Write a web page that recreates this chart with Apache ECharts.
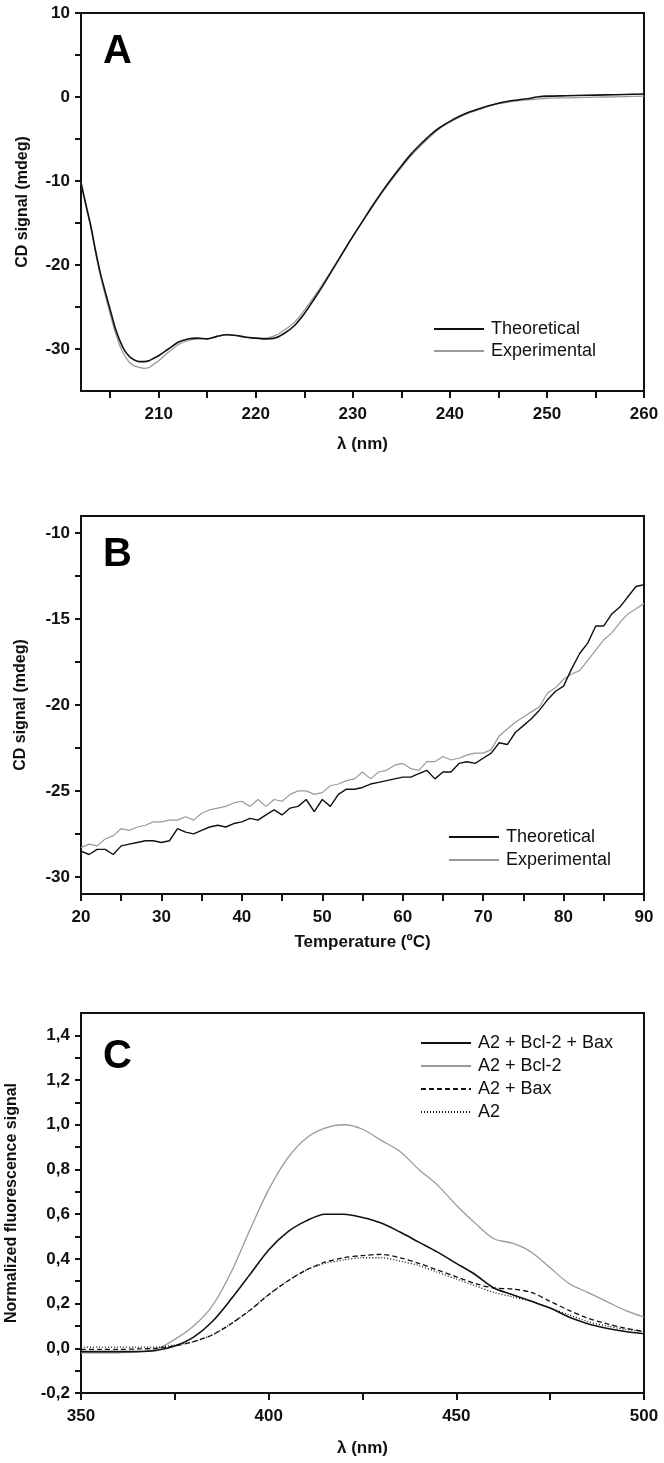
<!DOCTYPE html>
<html>
<head>
<meta charset="utf-8">
<script src="https://cdn.jsdelivr.net/npm/echarts@6/dist/echarts.min.js"></script>
<style>
  html, body { margin: 0; padding: 0; background: #fff; }
  #chart { width: 664px; height: 1463px; }
</style>
</head>
<body>
<div id="chart"></div>
<script>
// ---- panel A: CD spectrum ----
var wlA = [202, 202.5, 203, 203.5, 204, 204.5, 205, 205.5, 206, 206.5, 207, 207.5, 208, 208.5, 209, 209.5, 210,
  211, 212, 213, 214, 215, 216, 217, 218, 219, 220, 221, 222, 223, 224, 225, 226, 227, 228, 229, 230,
  231, 232, 233, 234, 235, 236, 237, 238, 239, 240, 241, 242, 243, 244, 245, 246, 247, 248, 249, 250,
  252, 254, 256, 258, 260]
var theoA = [-10.2, -12.8, -15.3, -18.3, -21.0, -23.2, -25.3, -27.4, -29.0, -30.2, -30.9, -31.3, -31.5, -31.5, -31.4, -31.1, -30.8,
  -30.0, -29.2, -28.8, -28.7, -28.8, -28.5, -28.3, -28.4, -28.6, -28.7, -28.8, -28.7, -28.1, -27.2, -25.8, -24.1, -22.3, -20.4, -18.5, -16.6,
  -14.8, -13.0, -11.3, -9.7, -8.2, -6.8, -5.6, -4.5, -3.6, -2.9, -2.3, -1.8, -1.4, -1.05, -0.75, -0.5, -0.35, -0.2, 0.0, 0.1,
  0.15, 0.2, 0.25, 0.3, 0.35]
var expA = [-10.2, -12.9, -15.5, -18.5, -21.3, -23.6, -25.8, -27.9, -29.6, -30.8, -31.6, -32.0, -32.2, -32.3, -32.2, -31.8, -31.4,
  -30.4, -29.5, -29.0, -28.8, -28.8, -28.5, -28.3, -28.4, -28.6, -28.7, -28.7, -28.4, -27.7, -26.8, -25.4, -23.8, -22.1, -20.3, -18.4, -16.6,
  -14.8, -13.1, -11.4, -9.9, -8.4, -7.0, -5.8, -4.7, -3.7, -3.0, -2.4, -1.9, -1.5, -1.1, -0.8, -0.6, -0.45, -0.35, -0.25, -0.15,
  -0.1, -0.05, 0.0, 0.05, 0.1]
var xTicksA = [205, 210, 215, 220, 225, 230, 235, 240, 245, 250, 255, 260]
var xLabelsA = [210, 220, 230, 240, 250, 260]
var yTicksA = [-30, -25, -20, -15, -10, -5, 0, 5, 10]
var yLabelsA = [-30, -20, -10, 0, 10]

// ---- panel B: thermal denaturation ----
var tempB = [20, 21, 22, 23, 24, 25, 26, 27, 28, 29, 30, 31, 32, 33, 34, 35, 36, 37, 38, 39, 40,
  41, 42, 43, 44, 45, 46, 47, 48, 49, 50, 51, 52, 53, 54, 55, 56, 57, 58, 59, 60,
  61, 62, 63, 64, 65, 66, 67, 68, 69, 70, 71, 72, 73, 74, 75, 76, 77, 78, 79, 80,
  81, 82, 83, 84, 85, 86, 87, 88, 89, 90]
var theoB = [-28.5, -28.7, -28.4, -28.4, -28.7, -28.2, -28.1, -28.0, -27.9, -27.9, -28.0, -27.9, -27.2, -27.4, -27.5, -27.3, -27.1, -27.0, -27.1, -26.9, -26.8,
  -26.6, -26.7, -26.4, -26.1, -26.4, -26.0, -25.9, -25.5, -26.2, -25.5, -25.9, -25.2, -24.9, -24.9, -24.8, -24.6, -24.5, -24.4, -24.3, -24.2,
  -24.2, -24.0, -23.8, -24.3, -23.9, -23.9, -23.4, -23.3, -23.4, -23.1, -22.8, -22.2, -22.3, -21.6, -21.2, -20.8, -20.3, -19.7, -19.2, -18.9,
  -17.9, -17.0, -16.4, -15.4, -15.4, -14.7, -14.3, -13.7, -13.1, -13.0]
var expB = [-28.3, -28.1, -28.2, -27.8, -27.6, -27.2, -27.3, -27.1, -27.0, -26.8, -26.8, -26.7, -26.7, -26.5, -26.7, -26.3, -26.1, -26.0, -25.9, -25.7, -25.6,
  -25.9, -25.5, -25.9, -25.5, -25.6, -25.2, -25.0, -25.0, -25.2, -25.1, -24.7, -24.6, -24.4, -24.3, -23.9, -24.3, -23.9, -23.8, -23.5, -23.4,
  -23.7, -23.8, -23.3, -23.3, -23.0, -23.2, -23.1, -22.9, -22.8, -22.8, -22.6, -21.8, -21.4, -21.0, -20.7, -20.4, -20.1, -19.3, -19.0, -18.5,
  -18.2, -18.0, -17.4, -16.8, -16.2, -15.8, -15.2, -14.7, -14.4, -14.1]
var xTicksB = [20, 25, 30, 35, 40, 45, 50, 55, 60, 65, 70, 75, 80, 85, 90]
var xLabelsB = [20, 30, 40, 50, 60, 70, 80, 90]
var yTicksB = [-30, -27.5, -25, -22.5, -20, -17.5, -15, -12.5, -10]
var yLabelsB = [-30, -25, -20, -15, -10]

// ---- panel C: fluorescence ----
var wlC = [350, 355, 360, 365, 370, 375, 380, 385, 390, 395, 400, 405, 410, 415, 420, 425,
  430, 435, 440, 445, 450, 455, 460, 465, 470, 475, 480, 485, 490, 495, 500]
var bcl2BaxC = [-0.015, -0.015, -0.015, -0.015, -0.01, 0.01, 0.05, 0.12, 0.22, 0.33, 0.44, 0.52, 0.57, 0.60, 0.60, 0.585,
  0.56, 0.52, 0.475, 0.43, 0.38, 0.33, 0.27, 0.24, 0.21, 0.18, 0.14, 0.11, 0.09, 0.075, 0.065]
var bcl2C = [-0.02, -0.02, -0.02, -0.015, -0.005, 0.04, 0.10, 0.19, 0.34, 0.53, 0.71, 0.85, 0.94, 0.985, 1.0, 0.98,
  0.93, 0.88, 0.80, 0.73, 0.64, 0.56, 0.49, 0.47, 0.43, 0.36, 0.29, 0.25, 0.21, 0.17, 0.14]
var baxC = [-0.005, -0.005, -0.005, -0.003, 0.0, 0.01, 0.03, 0.06, 0.11, 0.17, 0.24, 0.30, 0.35, 0.385, 0.405, 0.415,
  0.42, 0.405, 0.38, 0.35, 0.32, 0.29, 0.27, 0.265, 0.25, 0.21, 0.17, 0.135, 0.11, 0.09, 0.075]
var a2C = [0.005, 0.005, 0.005, 0.005, 0.005, 0.015, 0.03, 0.06, 0.11, 0.17, 0.24, 0.30, 0.35, 0.38, 0.395, 0.405,
  0.405, 0.39, 0.37, 0.34, 0.31, 0.28, 0.25, 0.23, 0.21, 0.18, 0.15, 0.12, 0.10, 0.085, 0.075]
var xTicksC = [350, 375, 400, 425, 450, 475, 500]
var xLabelsC = [350, 400, 450, 500]
var yTicksC = [-0.2, -0.1, 0, 0.1, 0.2, 0.3, 0.4, 0.5, 0.6, 0.7, 0.8, 0.9, 1.0, 1.1, 1.2, 1.3, 1.4]
var yLabelsC = [-0.2, 0, 0.2, 0.4, 0.6, 0.8, 1.0, 1.2, 1.4]

var FONT = 'Liberation Sans'
var BLACK = '#111'
var GREY = '#9a9a9a'

function pairs(xs, ys) {
  return xs.map(function (x, i) { return [x, ys[i]] })
}

function xAxisOf(idx, min, max, ticks, labels, name, gap) {
  return {
    type: 'value', gridIndex: idx, min: min, max: max,
    name: name, nameLocation: 'middle', nameGap: gap,
    nameTextStyle: { fontFamily: FONT, fontWeight: 'bold', fontSize: 17, color: BLACK },
    axisLine: { show: true, onZero: false, lineStyle: { color: BLACK, width: 2 } },
    axisTick: { show: true, length: 7, customValues: ticks, lineStyle: { color: BLACK, width: 2 } },
    axisLabel: { customValues: labels, margin: 15, fontFamily: FONT, fontWeight: 'bold', fontSize: 17, color: BLACK },
    splitLine: { show: false }
  }
}

function yAxisOf(idx, min, max, ticks, labels, name, gap, fmt) {
  return {
    type: 'value', gridIndex: idx, min: min, max: max,
    name: name, nameLocation: 'middle', nameGap: gap,
    nameTextStyle: { fontFamily: FONT, fontWeight: 'bold', fontSize: 16, color: BLACK },
    axisLine: { show: true, onZero: false, lineStyle: { color: BLACK, width: 2 } },
    axisTick: { show: true, length: 6, customValues: ticks, lineStyle: { color: BLACK, width: 2 } },
    axisLabel: { customValues: labels, margin: 11, fontFamily: FONT, fontWeight: 'bold', fontSize: 17, color: BLACK, formatter: fmt },
    splitLine: { show: false }
  }
}

function commaFmt(v) {
  return v.toFixed(1).replace('.', ',')
}

function lineSeries(name, xi, data, color, width, type, smooth) {
  return {
    name: name, type: 'line', xAxisIndex: xi, yAxisIndex: xi,
    data: data, symbol: 'none', smooth: smooth, animation: false,
    lineStyle: { color: color, width: width, type: type || 'solid' },
    itemStyle: { color: color }
  }
}

function legendOf(names, left, top, gap) {
  return {
    data: names, orient: 'vertical', left: left, top: top, padding: 0,
    itemWidth: 50, itemHeight: 14, itemGap: gap,
    itemStyle: { opacity: 0 },
    selectedMode: false,
    textStyle: { fontFamily: FONT, fontSize: 18, color: BLACK, padding: [0, 0, 0, 2] }
  }
}

function letter(txt, x, y) {
  return {
    type: 'text', left: x, top: y,
    style: { text: txt, font: 'bold 40px "Liberation Sans"', fill: '#000' }
  }
}

var chart = echarts.init(document.getElementById('chart'))
var gridBox = { show: true, borderColor: BLACK, borderWidth: 2, backgroundColor: 'transparent', containLabel: false, outerBoundsMode: 'none' }

chart.setOption({
  animation: false,
  grid: [
    Object.assign({ left: 81, top: 13, width: 563, height: 378 }, gridBox),
    Object.assign({ left: 81, top: 516, width: 563, height: 378 }, gridBox),
    Object.assign({ left: 81, top: 1013, width: 563, height: 380 }, gridBox)
  ],
  xAxis: [
    xAxisOf(0, 202, 260, xTicksA, xLabelsA, 'λ (nm)', 45),
    xAxisOf(1, 20, 90, xTicksB, xLabelsB, 'Temperature (ºC)', 40),
    xAxisOf(2, 350, 500, xTicksC, xLabelsC, 'λ (nm)', 47)
  ],
  yAxis: [
    yAxisOf(0, -35, 10, yTicksA, yLabelsA, 'CD signal (mdeg)', 50),
    yAxisOf(1, -31, -9, yTicksB, yLabelsB, 'CD signal (mdeg)', 52),
    yAxisOf(2, -0.2, 1.5, yTicksC, yLabelsC, 'Normalized fluorescence signal', 61, commaFmt)
  ],
  legend: [
    legendOf(['Theoretical', 'Experimental'], 433, 320, 4),
    legendOf(['Theoretical', 'Experimental'], 448, 828, 5),
    legendOf(['A2 + Bcl-2 + Bax', 'A2 + Bcl-2', 'A2 + Bax', 'A2'], 420, 1034, 5)
  ],
  graphic: [
    letter('A', 103, 32),
    letter('B', 103, 535),
    letter('C', 103, 1037)
  ],
  series: [
    lineSeries('Experimental', 0, pairs(wlA, expA), GREY, 1.3, null, 0.3),
    lineSeries('Theoretical', 0, pairs(wlA, theoA), BLACK, 1.6, null, 0.3),
    lineSeries('Experimental', 1, pairs(tempB, expB), GREY, 1.2, null, false),
    lineSeries('Theoretical', 1, pairs(tempB, theoB), BLACK, 1.4, null, false),
    lineSeries('A2 + Bcl-2', 2, pairs(wlC, bcl2C), GREY, 1.3, null, 0.3),
    lineSeries('A2', 2, pairs(wlC, a2C), BLACK, 1.3, [1, 2], 0.3),
    lineSeries('A2 + Bax', 2, pairs(wlC, baxC), BLACK, 1.3, [5, 3], 0.3),
    lineSeries('A2 + Bcl-2 + Bax', 2, pairs(wlC, bcl2BaxC), BLACK, 1.6, null, 0.3)
  ]
})
</script>
</body>
</html>
